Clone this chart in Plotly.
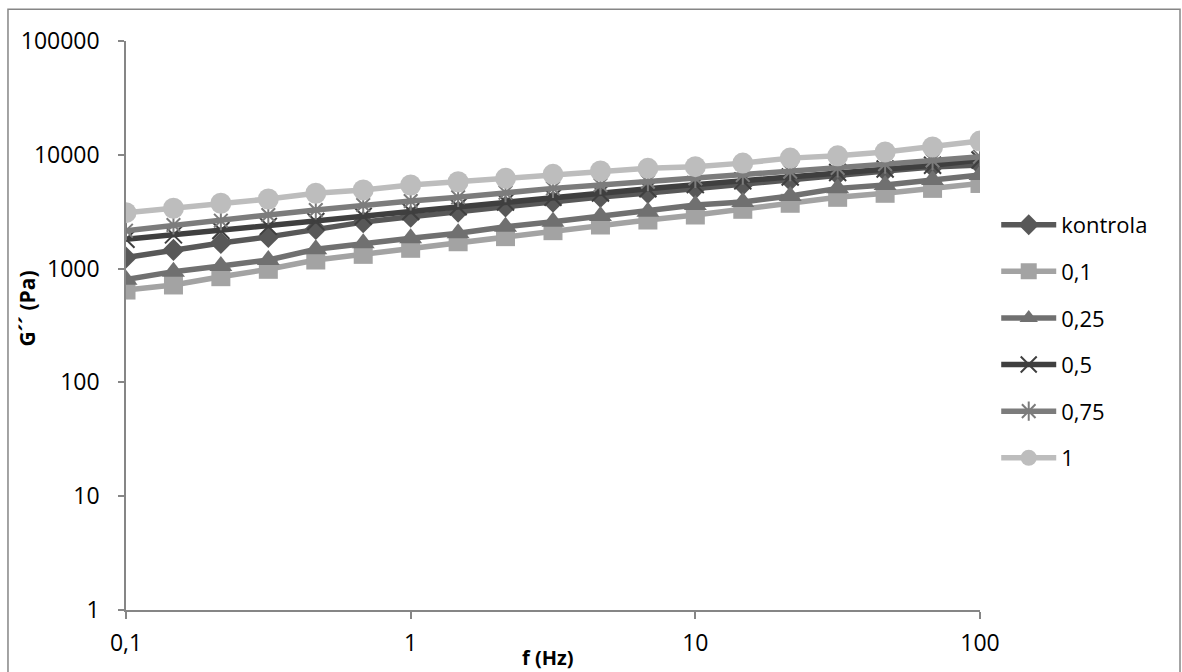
import plotly.graph_objects as go

# Frequency sweep (Hz), 6 points per decade
freq = [0.1, 0.1468, 0.2154, 0.3162, 0.4642, 0.6813, 1.0, 1.468, 2.154, 3.162,
        4.642, 6.813, 10.0, 14.68, 21.54, 31.62, 46.42, 68.13, 100.0]

# Loss modulus G'' (Pa) for each sample
g_kontrola = [1250, 1460, 1680, 1900, 2230, 2560, 2860, 3170, 3510, 3870,
              4260, 4620, 5070, 5450, 5990, 6700, 7200, 7800, 8150]
g_01 = [648, 718, 849, 986, 1190, 1334, 1508, 1722, 1909, 2154,
        2416, 2673, 2958, 3320, 3750, 4230, 4590, 5070, 5600]
g_025 = [800, 940, 1054, 1190, 1478, 1667, 1845, 2043, 2334, 2584,
         2897, 3162, 3623, 3845, 4345, 5070, 5430, 6010, 6640]
g_05 = [1808, 1980, 2160, 2350, 2590, 2880, 3180, 3500, 3850, 4230,
        4620, 5030, 5470, 5900, 6380, 6980, 7500, 8100, 9000]
g_075 = [2154, 2416, 2636, 2958, 3273, 3623, 3926, 4230, 4645, 5070,
         5430, 5800, 6210, 6640, 7110, 7670, 8280, 8910, 9620]
g_1 = [3100, 3390, 3750, 4090, 4590, 4910, 5430, 5800, 6210, 6730,
       7210, 7610, 7870, 8450, 9350, 9800, 10600, 11700, 13200]

series_names = ["kontrola", "0,1", "0,25", "0,5", "0,75", "1"]
series_values = [g_kontrola, g_01, g_025, g_05, g_075, g_1]

x_tick_vals = [0.1, 1, 10, 100]
x_tick_text = ["0,1", "1", "10", "100"]
y_tick_vals = [1, 10, 100, 1000, 10000, 100000]
y_tick_text = ["1", "10", "100", "1000", "10000", "100000"]

styles = [
    dict(color="#585858", symbol="diamond", size=17, open_line=False),
    dict(color="#a3a3a3", symbol="square", size=19, open_line=False),
    dict(color="#707070", symbol="triangle-up", size=20, open_line=False),
    dict(color="#3f3f3f", symbol="x-thin", size=17, open_line=True),
    dict(color="#7c7c7c", symbol="asterisk", size=16, open_line=True),
    dict(color="#bdbdbd", symbol="circle", size=21, open_line=False),
]

FONT = "Open Sans, Lato, DejaVu Sans, sans-serif"
AXIS_GREY = "#868686"

fig = go.Figure()
for name, vals, st in zip(series_names, series_values, styles):
    if st["open_line"]:
        marker = dict(symbol=st["symbol"], size=st["size"], color=st["color"],
                      line=dict(color=st["color"], width=2))
    else:
        marker = dict(symbol=st["symbol"], size=st["size"], color=st["color"],
                      line=dict(width=0))
    fig.add_trace(go.Scatter(
        x=freq, y=vals, name=name, mode="lines+markers",
        line=dict(color=st["color"], width=5.5),
        marker=marker, legendgroup=name,
    ))

fig.update_xaxes(
    type="log", range=[-1, 2], showgrid=False, zeroline=False,
    showline=True, linecolor=AXIS_GREY, linewidth=1.5,
    ticks="outside", ticklen=7, tickcolor=AXIS_GREY, tickwidth=1.5,
    tickvals=x_tick_vals, ticktext=x_tick_text, ticklabelstandoff=5,
    tickfont=dict(family=FONT, size=23, color="#000000"),
)
fig.update_yaxes(
    type="log", range=[0, 5], showgrid=False, zeroline=False,
    showline=True, linecolor=AXIS_GREY, linewidth=1.5,
    ticks="outside", ticklen=6, tickcolor=AXIS_GREY, tickwidth=1.5,
    tickvals=y_tick_vals, ticktext=y_tick_text, ticklabelstandoff=14,
    tickfont=dict(family=FONT, size=23, color="#000000"),
)

fig.update_layout(
    width=1182, height=672,
    margin=dict(l=126, r=202, t=41, b=62, autoexpand=False),
    paper_bgcolor="white", plot_bgcolor="white",
    font=dict(family=FONT, color="#000000"),
    legend=dict(
        x=1.019, y=0.472, xanchor="left", yanchor="middle",
        font=dict(family=FONT, size=22, color="#000000"),
        tracegroupgap=15, itemwidth=55, bgcolor="rgba(0,0,0,0)",
    ),
    annotations=[
        dict(text="<b>f (Hz)</b>", xref="paper", yref="paper", x=0.494, y=-0.083,
             xanchor="center", yanchor="middle", showarrow=False,
             font=dict(family=FONT, size=20, color="#000000")),
        dict(text="<b>G´´ (Pa)</b>", xref="paper", yref="paper", x=-0.1159, y=0.53,
             xanchor="center", yanchor="middle", showarrow=False, textangle=-90,
             font=dict(family=FONT, size=21, color="#000000")),
    ],
    shapes=[
        dict(type="rect", xref="paper", yref="paper",
             x0=-0.1382, x1=1.2342, y0=-0.25, y1=1.056,
             line=dict(color=AXIS_GREY, width=1.5), layer="below"),
    ],
)

fig.write_html("out.html")
